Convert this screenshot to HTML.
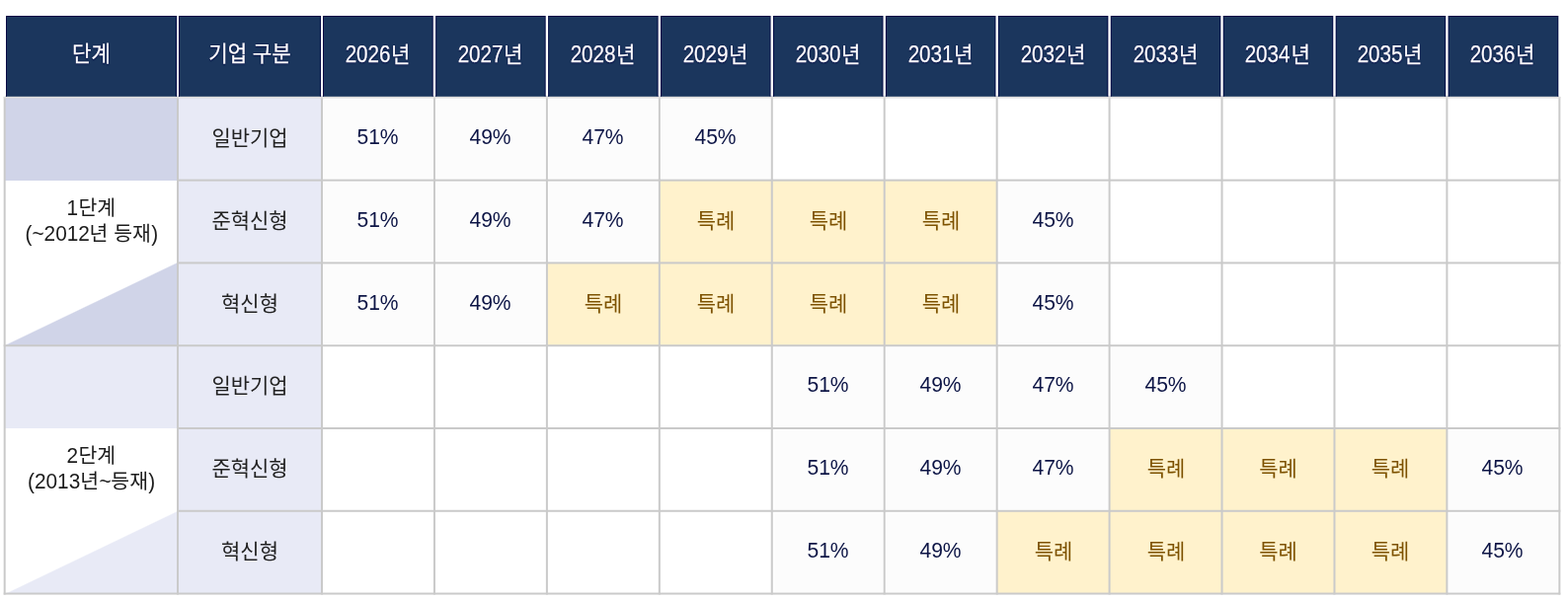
<!DOCTYPE html>
<html lang="ko">
<head>
<meta charset="utf-8">
<title>단계별 기업 구분 연도별 비율</title>
<style>
html,body{margin:0;padding:0;background:#fff}
body{width:1588px;height:609px;position:relative;overflow:hidden;font-family:"Liberation Sans","Noto Sans CJK KR",sans-serif}
table.grid{position:absolute;left:5px;top:16px;border-collapse:collapse;border-spacing:0;table-layout:fixed;width:1574px;
  font-family:"Liberation Sans","Noto Sans CJK KR",sans-serif;font-size:21.3px;line-height:26px;color:#222;will-change:transform}
table.grid th,table.grid td{padding:28px 0 0;margin:0;border:0;text-align:center;vertical-align:top;box-sizing:border-box;font-weight:400;white-space:nowrap;overflow:hidden}
table.grid th{background:#1b365d;color:#fff;padding-top:26px;word-spacing:-.4px;-webkit-text-stroke:.25px #fff;text-shadow:0 0 1px #020a45,0 0 1px #020a45,0 1px 1.5px #020a45}
th .ko{font-size:21.2px;letter-spacing:0}
th.y .ko{margin-left:.5px;font-size:21.1px}
table.grid th.y{padding-right:1px}
td.cat{background:#e8eaf6}
td.v{background:#fcfcfc;box-shadow:inset 0 0 0 2px #fff;color:#0c1445}
td.sp{background:#fff2cc;color:#7d5200}
table.grid td.stage{color:#1c1c1c;font-size:20.8px;line-height:25.6px;padding-top:99px}
table.grid td.v{padding-top:27px}
table.grid tr.r3 td{padding-top:29px}
table.grid tr.r3 td.v{padding-top:28px}
td.s1{background:
  linear-gradient(#d0d4e8,#d0d4e8) left top/100% 84px no-repeat,
  linear-gradient(to bottom right,rgba(208,212,232,0) calc(50% - .6px),#d0d4e8 calc(50% + .6px)) left bottom/100% 84px no-repeat,#fff}
td.s2{background:
  linear-gradient(#e8eaf6,#e8eaf6) left top/100% 84px no-repeat,
  linear-gradient(to bottom right,rgba(232,234,246,0) calc(50% - .6px),#e8eaf6 calc(50% + .6px)) left bottom/100% 84px no-repeat,#fff}
.n{display:inline-block;transform-origin:50% 50%;line-height:26px}
th .n{font-size:23.0px;transform:scaleX(0.896)}
td.v .n{font-size:22.5px;transform:scaleX(0.936)}
td.stage .n{font-size:22.4px;transform:scaleX(0.93);line-height:25.6px}
.ko{display:inline;position:relative;font-family:"Liberation Sans","Noto Sans CJK KR",sans-serif;font-size:.985em}
svg.rules{position:absolute;left:0;top:0;pointer-events:none}
</style>
</head>
<body>
<table class="grid">
<colgroup><col style="width:175px"><col style="width:146px"><col style="width:114px"><col style="width:114px"><col style="width:114px"><col style="width:114px"><col style="width:114px"><col style="width:114px"><col style="width:114px"><col style="width:114px"><col style="width:113px"><col style="width:114px"><col style="width:114px"></colgroup>
<thead><tr style="height:83px">
<th><span class="ko">단계</span></th>
<th><span class="ko">기업</span> <span class="ko">구분</span></th>
<th class="y"><span class="n" style="margin:0 -2.66px">2026</span><span class="ko">년</span></th>
<th class="y"><span class="n" style="margin:0 -2.66px">2027</span><span class="ko">년</span></th>
<th class="y"><span class="n" style="margin:0 -2.66px">2028</span><span class="ko">년</span></th>
<th class="y"><span class="n" style="margin:0 -2.66px">2029</span><span class="ko">년</span></th>
<th class="y"><span class="n" style="margin:0 -2.66px">2030</span><span class="ko">년</span></th>
<th class="y"><span class="n" style="margin:0 -2.66px">2031</span><span class="ko">년</span></th>
<th class="y"><span class="n" style="margin:0 -2.66px">2032</span><span class="ko">년</span></th>
<th class="y"><span class="n" style="margin:0 -2.66px">2033</span><span class="ko">년</span></th>
<th class="y"><span class="n" style="margin:0 -2.66px">2034</span><span class="ko">년</span></th>
<th class="y"><span class="n" style="margin:0 -2.66px">2035</span><span class="ko">년</span></th>
<th class="y"><span class="n" style="margin:0 -2.66px">2036</span><span class="ko">년</span></th>
</tr></thead>
<tbody>
<tr style="height:84px">
<td class="stage s1" rowspan="3"><span class="n" style="margin:0 -0.44px">1</span><span class="ko">단계</span><br><span class="n" style="margin:0 -2.46px">(~2012</span><span class="ko">년</span> <span class="ko">등재</span><span class="n" style="margin:0 -0.26px">)</span></td>
<td class="cat"><span class="ko">일반기업</span></td>
<td class="v"><span class="n" style="margin:0 -1.44px">51%</span></td>
<td class="v"><span class="n" style="margin:0 -1.44px">49%</span></td>
<td class="v"><span class="n" style="margin:0 -1.44px">47%</span></td>
<td class="v"><span class="n" style="margin:0 -1.44px">45%</span></td>
<td></td>
<td></td>
<td></td>
<td></td>
<td></td>
<td></td>
<td></td>
</tr>
<tr style="height:83px">
<td class="cat"><span class="ko">준혁신형</span></td>
<td class="v"><span class="n" style="margin:0 -1.44px">51%</span></td>
<td class="v"><span class="n" style="margin:0 -1.44px">49%</span></td>
<td class="v"><span class="n" style="margin:0 -1.44px">47%</span></td>
<td class="sp"><span class="ko">특례</span></td>
<td class="sp"><span class="ko">특례</span></td>
<td class="sp"><span class="ko">특례</span></td>
<td class="v"><span class="n" style="margin:0 -1.44px">45%</span></td>
<td></td>
<td></td>
<td></td>
<td></td>
</tr>
<tr class="r3" style="height:84px">
<td class="cat"><span class="ko">혁신형</span></td>
<td class="v"><span class="n" style="margin:0 -1.44px">51%</span></td>
<td class="v"><span class="n" style="margin:0 -1.44px">49%</span></td>
<td class="sp"><span class="ko">특례</span></td>
<td class="sp"><span class="ko">특례</span></td>
<td class="sp"><span class="ko">특례</span></td>
<td class="sp"><span class="ko">특례</span></td>
<td class="v"><span class="n" style="margin:0 -1.44px">45%</span></td>
<td></td>
<td></td>
<td></td>
<td></td>
</tr>
<tr style="height:84px">
<td class="stage s2" rowspan="3"><span class="n" style="margin:0 -0.44px">2</span><span class="ko">단계</span><br><span class="n" style="margin:0 -2.01px">(2013</span><span class="ko">년</span><span class="n" style="margin:0 -0.46px">~</span><span class="ko">등재</span><span class="n" style="margin:0 -0.26px">)</span></td>
<td class="cat"><span class="ko">일반기업</span></td>
<td></td>
<td></td>
<td></td>
<td></td>
<td class="v"><span class="n" style="margin:0 -1.44px">51%</span></td>
<td class="v"><span class="n" style="margin:0 -1.44px">49%</span></td>
<td class="v"><span class="n" style="margin:0 -1.44px">47%</span></td>
<td class="v"><span class="n" style="margin:0 -1.44px">45%</span></td>
<td></td>
<td></td>
<td></td>
</tr>
<tr style="height:84px">
<td class="cat"><span class="ko">준혁신형</span></td>
<td></td>
<td></td>
<td></td>
<td></td>
<td class="v"><span class="n" style="margin:0 -1.44px">51%</span></td>
<td class="v"><span class="n" style="margin:0 -1.44px">49%</span></td>
<td class="v"><span class="n" style="margin:0 -1.44px">47%</span></td>
<td class="sp"><span class="ko">특례</span></td>
<td class="sp"><span class="ko">특례</span></td>
<td class="sp"><span class="ko">특례</span></td>
<td class="v"><span class="n" style="margin:0 -1.44px">45%</span></td>
</tr>
<tr style="height:84px">
<td class="cat"><span class="ko">혁신형</span></td>
<td></td>
<td></td>
<td></td>
<td></td>
<td class="v"><span class="n" style="margin:0 -1.44px">51%</span></td>
<td class="v"><span class="n" style="margin:0 -1.44px">49%</span></td>
<td class="sp"><span class="ko">특례</span></td>
<td class="sp"><span class="ko">특례</span></td>
<td class="sp"><span class="ko">특례</span></td>
<td class="sp"><span class="ko">특례</span></td>
<td class="v"><span class="n" style="margin:0 -1.44px">45%</span></td>
</tr>
</tbody></table>
<svg class="rules" width="1588" height="609" viewBox="0 0 1588 609" aria-hidden="true">
<rect x="179.00" y="181.65" width="1401.34" height="2.00" fill="#cacaca"/>
<rect x="179.00" y="265.43" width="1401.34" height="2.00" fill="#cacaca"/>
<rect x="3.70" y="349.21" width="1576.64" height="2.00" fill="#cacaca"/>
<rect x="179.00" y="432.99" width="1401.34" height="2.00" fill="#cacaca"/>
<rect x="179.00" y="516.77" width="1401.34" height="2.00" fill="#cacaca"/>
<rect x="3.70" y="600.55" width="1576.64" height="2.00" fill="#cacaca"/>
<rect x="3.70" y="97.87" width="2.00" height="504.68" fill="#cacaca"/>
<rect x="179.00" y="97.87" width="2.00" height="504.68" fill="#cacaca"/>
<rect x="325.00" y="97.87" width="2.00" height="504.68" fill="#cacaca"/>
<rect x="438.94" y="97.87" width="2.00" height="504.68" fill="#cacaca"/>
<rect x="552.88" y="97.87" width="2.00" height="504.68" fill="#cacaca"/>
<rect x="666.82" y="97.87" width="2.00" height="504.68" fill="#cacaca"/>
<rect x="780.76" y="97.87" width="2.00" height="504.68" fill="#cacaca"/>
<rect x="894.70" y="97.87" width="2.00" height="504.68" fill="#cacaca"/>
<rect x="1008.64" y="97.87" width="2.00" height="504.68" fill="#cacaca"/>
<rect x="1122.58" y="97.87" width="2.00" height="504.68" fill="#cacaca"/>
<rect x="1236.52" y="97.87" width="2.00" height="504.68" fill="#cacaca"/>
<rect x="1350.46" y="97.87" width="2.00" height="504.68" fill="#cacaca"/>
<rect x="1464.40" y="97.87" width="2.00" height="504.68" fill="#cacaca"/>
<rect x="1578.34" y="97.87" width="2.00" height="504.68" fill="#cacaca"/>
<rect x="3.70" y="97.80" width="1576.64" height="1.70" fill="#dddcdb"/>
<rect x="5.70" y="16.00" width="1572.64" height="1.00" fill="#020a45"/>
<rect x="0.00" y="15.00" width="6.00" height="82.80" fill="#fff"/>
<rect x="6.00" y="16.00" width="1.00" height="81.80" fill="#020a45"/>
<rect x="178.00" y="16.00" width="4.00" height="81.80" fill="#020a45"/>
<rect x="179.00" y="15.00" width="2.00" height="82.80" fill="#fff"/>
<rect x="324.00" y="16.00" width="4.00" height="81.80" fill="#020a45"/>
<rect x="325.00" y="15.00" width="2.00" height="82.80" fill="#fff"/>
<rect x="437.74" y="16.00" width="4.40" height="81.80" fill="#020a45"/>
<rect x="438.74" y="15.00" width="2.40" height="82.80" fill="#fff"/>
<rect x="551.68" y="16.00" width="4.40" height="81.80" fill="#020a45"/>
<rect x="552.68" y="15.00" width="2.40" height="82.80" fill="#fff"/>
<rect x="665.62" y="16.00" width="4.40" height="81.80" fill="#020a45"/>
<rect x="666.62" y="15.00" width="2.40" height="82.80" fill="#fff"/>
<rect x="779.56" y="16.00" width="4.40" height="81.80" fill="#020a45"/>
<rect x="780.56" y="15.00" width="2.40" height="82.80" fill="#fff"/>
<rect x="893.50" y="16.00" width="4.40" height="81.80" fill="#020a45"/>
<rect x="894.50" y="15.00" width="2.40" height="82.80" fill="#fff"/>
<rect x="1007.44" y="16.00" width="4.40" height="81.80" fill="#020a45"/>
<rect x="1008.44" y="15.00" width="2.40" height="82.80" fill="#fff"/>
<rect x="1121.38" y="16.00" width="4.40" height="81.80" fill="#020a45"/>
<rect x="1122.38" y="15.00" width="2.40" height="82.80" fill="#fff"/>
<rect x="1235.32" y="16.00" width="4.40" height="81.80" fill="#020a45"/>
<rect x="1236.32" y="15.00" width="2.40" height="82.80" fill="#fff"/>
<rect x="1349.26" y="16.00" width="4.40" height="81.80" fill="#020a45"/>
<rect x="1350.26" y="15.00" width="2.40" height="82.80" fill="#fff"/>
<rect x="1463.20" y="16.00" width="4.40" height="81.80" fill="#020a45"/>
<rect x="1464.20" y="15.00" width="2.40" height="82.80" fill="#fff"/>
<rect x="1577.34" y="16.00" width="1.00" height="81.80" fill="#020a45"/>
<rect x="1578.34" y="15.00" width="4.00" height="82.80" fill="#fff"/>
</svg>
</body>
</html>
